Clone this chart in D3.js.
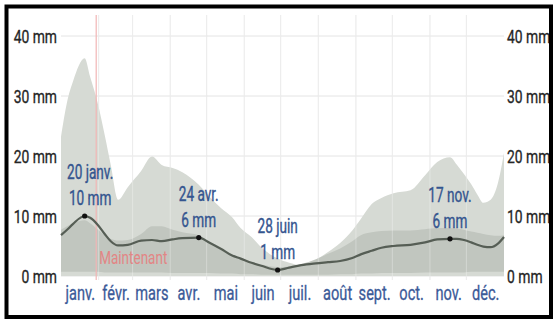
<!DOCTYPE html>
<html>
<head>
<meta charset="utf-8">
<script src="https://cdn.jsdelivr.net/npm/d3@7"></script>
<style>
  html, body { margin: 0; padding: 0; background: #fff; }
  svg { display: block; }
  text { font-family: Roboto, "Noto Sans", sans-serif; }
</style>
</head>
<body>
<svg id="chart" width="555" height="322"></svg>
<script>
// Day of year (0 = 1 janv.) at which each series is sampled
const days = [0, 5, 10, 19.5, 24, 30, 36, 41, 47, 55, 66, 75, 83, 92, 100, 113.5, 122, 132, 141, 148,
  157, 165, 178.5, 188, 198, 210, 220, 230, 240, 247, 256, 264, 274, 288, 300, 310, 320.5, 326,
  332, 338, 343, 348, 354, 360, 365];

// Upper edge of the wide band (mm)
const high90 = [23.2, 29, 32.5, 36.3, 33.2, 29, 23.5, 18.5, 12.7, 14.8, 17.5, 19.9, 18.5, 18.0, 17.3, 15.2,
  13.3, 11.3, 9.8, 8.0, 6.5, 4.8, 2.9, 2.2, 1.8, 2.7, 4.0, 5.5, 7.6, 9.5, 12.0, 13.0, 13.8, 14.3,
  16.8, 19.0, 19.8, 18.6, 17.0, 15.3, 13.6, 12.2, 12.7, 15.5, 20.5];

// Narrow band (mm)
const high75 = [7.7, 8.3, 8.8, 9.3, 8.8, 7.8, 6.8, 6.2, 5.9, 6.0, 7.0, 8.3, 8.3, 7.7, 7.3, 6.8,
  5.8, 4.3, 3.6, 3.1, 2.3, 1.9, 1.5, 1.6, 2.0, 2.8, 3.7, 4.6, 5.8, 6.8, 7.3, 7.5, 7.6, 7.6,
  7.8, 8.0, 8.0, 7.9, 7.7, 7.4, 7.2, 7.0, 6.8, 6.7, 6.8];
const low75 = [0.7, 0.7, 0.7, 0.7, 0.7, 0.7, 0.6, 0.6, 0.6, 0.6, 0.6, 0.6, 0.6, 0.5, 0.5, 0.5,
  0.5, 0.4, 0.4, 0.3, 0.3, 0.2, 0.2, 0.2, 0.2, 0.2, 0.2, 0.3, 0.3, 0.4, 0.4, 0.5, 0.5, 0.5,
  0.6, 0.6, 0.6, 0.6, 0.6, 0.7, 0.7, 0.7, 0.7, 0.7, 0.7];

// Median line (mm)
const median = [6.8, 7.7, 8.7, 10.0, 9.7, 8.6, 7.0, 5.8, 5.1, 5.2, 5.9, 6.0, 5.8, 6.1, 6.3, 6.4,
  5.6, 4.5, 3.4, 2.9, 2.2, 1.7, 1.0, 1.4, 1.8, 2.1, 2.3, 2.5, 3.0, 3.6, 4.2, 4.7, 5.0, 5.2,
  5.6, 6.1, 6.2, 6.2, 6.0, 5.6, 5.2, 4.9, 4.8, 5.4, 6.5];

const monthStarts = [0, 31, 59, 90, 120, 151, 181, 212, 243, 273, 304, 334, 365];
const monthLabels = ["janv.", "févr.", "mars", "avr.", "mai", "juin", "juil.", "août", "sept.", "oct.", "nov.", "déc."];
const yTicks = [0, 10, 20, 30, 40];

// Marked extremes of the median line
const markDays = [19.5, 113.5, 178.5, 320.5];
const markDates = ["20 janv.", "24 avr.", "28 juin", "17 nov."];

const todayDay = 29;
const todayLabel = "Maintenant";

const svg = d3.select("#chart");
const plotLeft = 61, plotRight = 504, plotTop = 15, plotBottom = 276;
const squeeze = 0.73;      // horizontal squeeze of axis labels
const squeezeMark = 0.68;  // horizontal squeeze of point labels

const x = d3.scaleLinear().domain([0, 365]).range([plotLeft, plotRight]);
const y = d3.scaleLinear().domain([0, 43.5]).range([plotBottom, plotTop]);

const rows = days.map((d, i) => ({ d, h90: high90[i], h75: high75[i], l75: low75[i], m: median[i] }));

const gridColor = "#e4e4e4";
const grid = svg.append("g");
grid.selectAll("line.h").data(yTicks).join("line")
  .attr("x1", plotLeft).attr("x2", plotRight)
  .attr("y1", d => y(d)).attr("y2", d => y(d))
  .attr("stroke", gridColor).attr("stroke-width", 1);
grid.selectAll("line.v").data(monthStarts.slice(1, -1)).join("line")
  .attr("x1", d => x(d)).attr("x2", d => x(d))
  .attr("y1", plotTop).attr("y2", plotBottom + 4)
  .attr("stroke", gridColor).attr("stroke-width", 1);

const curve = d3.curveMonotoneX;
svg.append("path").datum(rows)
  .attr("d", d3.area().x(r => x(r.d)).y0(y(0)).y1(r => y(r.h90)).curve(curve))
  .attr("fill", "#d6dad4");
svg.append("path").datum(rows)
  .attr("d", d3.area().x(r => x(r.d)).y0(r => y(r.l75)).y1(r => y(r.h75)).curve(curve))
  .attr("fill", "#c1c6bf");

// faint grid showing through the bands
const grid2 = svg.append("g");
grid2.selectAll("line").data(monthStarts.slice(1, -1)).join("line")
  .attr("x1", d => x(d)).attr("x2", d => x(d))
  .attr("y1", plotTop).attr("y2", plotBottom + 4)
  .attr("stroke", "rgba(255,255,255,0.3)").attr("stroke-width", 1);

// "now" marker
svg.append("line")
  .attr("x1", x(todayDay)).attr("x2", x(todayDay))
  .attr("y1", plotTop).attr("y2", plotBottom + 4)
  .attr("stroke", "#f1b5b5").attr("stroke-width", 1.2);
svg.append("text")
  .attr("transform", `translate(${x(todayDay) + 3},264) scale(${squeeze},1)`)
  .attr("fill", "#e38585").attr("font-size", 18.5)
  .text(todayLabel);

svg.append("path").datum(rows)
  .attr("d", d3.line().x(r => x(r.d)).y(r => y(r.m)).curve(curve))
  .attr("fill", "none").attr("stroke", "#565e55").attr("stroke-width", 2.2);

// Axes
const yLeft = d3.axisLeft(y).tickValues(yTicks).tickSize(0).tickPadding(0).tickFormat(d => d + " mm");
const yRight = d3.axisRight(y).tickValues(yTicks).tickSize(0).tickPadding(0).tickFormat(d => d + " mm");
const gl = svg.append("g").attr("transform", `translate(${plotLeft - 4},0)`).call(yLeft);
const gr = svg.append("g").attr("transform", `translate(${plotRight + 3},0)`).call(yRight);
[gl, gr].forEach(g => {
  g.select(".domain").remove();
  g.selectAll("text").attr("font-size", 19).attr("fill", "#262626")
    .attr("stroke", "#262626").attr("stroke-width", 0.35)
    .attr("font-family", null).attr("x", 0)
    .attr("transform", `scale(${squeeze},1)`);
});

const monthMids = monthLabels.map((_, i) => (monthStarts[i] + monthStarts[i + 1]) / 2);
const xAxis = d3.axisBottom(x).tickValues(monthMids).tickSize(0).tickPadding(0)
  .tickFormat((d, i) => monthLabels[i]);
const gx = svg.append("g").attr("transform", `translate(0,${plotBottom})`).call(xAxis);
gx.select(".domain").remove();
gx.selectAll("text").attr("font-size", 20).attr("fill", "#3b5a98")
  .attr("stroke", "#3b5a98").attr("stroke-width", 0.3)
  .attr("font-family", null).attr("dy", null).attr("y", 24)
  .attr("transform", `scale(${squeeze},1)`);

// Marked points with their labels
const marks = markDays.map((d, i) => ({ d, v: median[days.indexOf(d)], date: markDates[i] }));
const mg = svg.append("g");
marks.forEach(mk => {
  const px = x(mk.d), py = y(mk.v);
  mg.append("circle").attr("cx", px).attr("cy", py).attr("r", 2.6).attr("fill", "#111");
  const t = mg.append("text").attr("font-size", 20).attr("fill", "#34558f")
    .attr("text-anchor", "middle")
    .attr("stroke", "#34558f").attr("stroke-width", 0.4);
  t.append("tspan").attr("x", 0).attr("y", -37).text(mk.date);
  t.append("tspan").attr("x", 0).attr("y", -11).text(d3.format(".0f")(mk.v) + " mm");
  const w = t.node().getBBox().width * squeezeMark;
  const cx = Math.max(px, plotLeft + 6 + w / 2);
  t.attr("transform", `translate(${cx},${py}) scale(${squeezeMark},1)`);
});

// Frame
svg.append("rect")
  .attr("x", 6.5).attr("y", 6.5).attr("width", 544.5).attr("height", 310.5)
  .attr("fill", "none").attr("stroke", "#000").attr("stroke-width", 4);
</script>
</body>
</html>
